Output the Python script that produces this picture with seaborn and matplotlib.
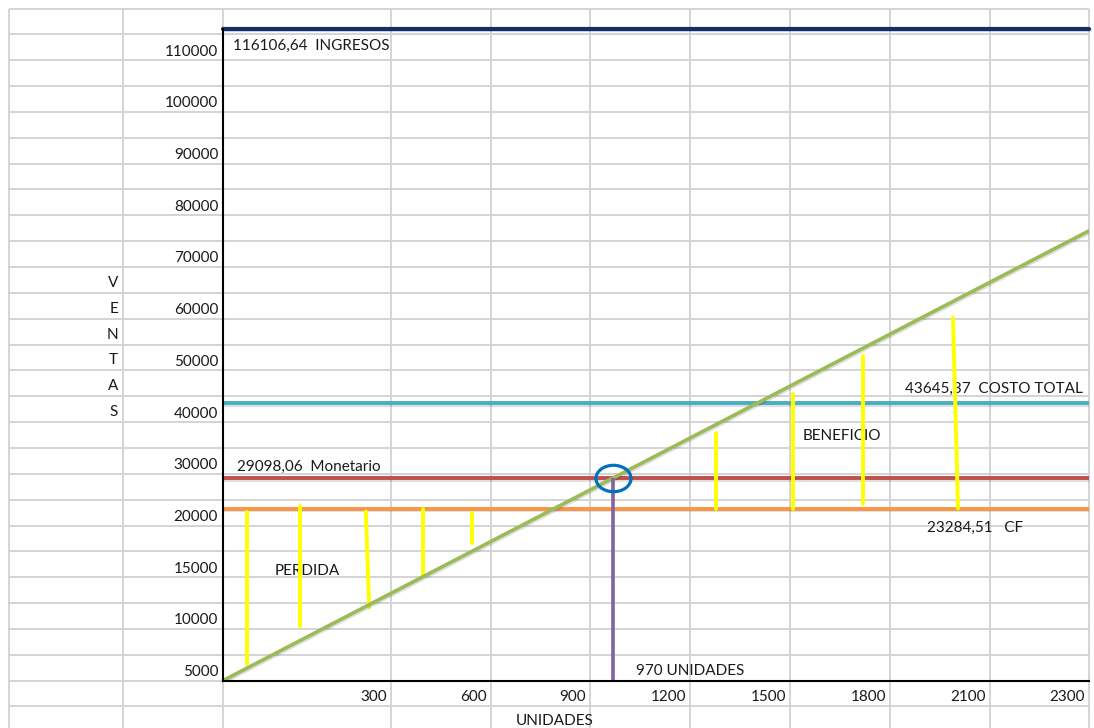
import numpy as np
import pandas as pd
import seaborn as sns
import matplotlib.pyplot as plt
import matplotlib.patheffects as pe
from matplotlib.markers import MarkerStyle
from matplotlib.transforms import Affine2D, ScaledTranslation

# ---------------------------------------------------------------
# Datos del punto de equilibrio
# ---------------------------------------------------------------
X_TICKS = [0, 300, 600, 900, 1200, 1500, 1800, 2100, 2300]
Y_TICKS = [5000, 10000, 15000, 20000, 30000, 40000, 50000, 60000,
           70000, 80000, 90000, 100000, 110000]

INGRESOS = 116106.64
COSTO_TOTAL = 43645.37
MONETARIO = 29098.06
COSTO_FIJO = 23284.51
UNIDADES_EQ = 970

# recta de ventas
VENTAS_X = [0, 2300]
VENTAS_Y = [5000, 77000]

# trazos amarillos (perdida y beneficio)
AMARILLO_X0 = [43, 138, 255, 396, 543, 1278, 1509, 1719, 2004]
AMARILLO_X1 = [43, 138, 261, 396, 543, 1278, 1509, 1719, 1989]
AMARILLO_Y0 = [22700, 23860, 22700, 23100, 22500, 23100, 23100, 24070, 23280]
AMARILLO_Y1 = [6600, 10300, 12100, 15100, 18300, 37900, 45400, 52800, 60200]

# ---------------------------------------------------------------
# Rejilla de la hoja de calculo (pixeles de la figura)
# ---------------------------------------------------------------
W, H = 1094, 728
COL_PX = [9, 123, 223, 391, 491, 590, 690, 790, 890, 990, 1089]
ROW_PX = [8.5 + 25.85 * k for k in range(28)]
X_TICK_PX = COL_PX[2:]
Y_TICK_PX = [ROW_PX[26 - 2 * i] for i in range(len(Y_TICKS))]


def tramos(src, dst):
    src = np.asarray(src, float)
    dst = np.asarray(dst, float)

    def f(v):
        v = np.asarray(v, float)
        out = np.interp(v, src, dst)
        lo = dst[0] + (v - src[0]) * (dst[1] - dst[0]) / (src[1] - src[0])
        hi = dst[-1] + (v - src[-1]) * (dst[-1] - dst[-2]) / (src[-1] - src[-2])
        out = np.where(v < src[0], lo, out)
        out = np.where(v > src[-1], hi, out)
        return out
    return f


fx = tramos(X_TICKS, X_TICK_PX)
fx_inv = tramos(X_TICK_PX, X_TICKS)
neg_y = -np.asarray(Y_TICK_PX)
fy = tramos(Y_TICKS, neg_y)
fy_inv = tramos(neg_y, Y_TICKS)

sns.set_theme(style="white")
plt.rcParams['font.family'] = ['Lato', 'DejaVu Sans']
FS = 11
TXT = '#1a1a1a'

fig = plt.figure(figsize=(W / 100, H / 100), dpi=100)
fig.patch.set_facecolor('white')

# fondo con las celdas
bg = fig.add_axes([0, 0, 1, 1])
bg.set_xlim(0, W)
bg.set_ylim(H, 0)
bg.axis('off')
bg.vlines(COL_PX, ROW_PX[0], H, color='#d4d4d4', lw=1.4)
bg.hlines(ROW_PX, COL_PX[0], COL_PX[-1], color='#d4d4d4', lw=1.4)
for i, ch in enumerate("VENTAS"):
    yc = (ROW_PX[10 + i] + ROW_PX[11 + i]) / 2 + 3
    bg.text(118, yc, ch, ha='right', va='center', fontsize=FS, color=TXT)

# grafico principal
top_px = -float(fy(INGRESOS))
bottom_px = Y_TICK_PX[0]
ax = fig.add_axes([X_TICK_PX[0] / W, 1 - bottom_px / H,
                   (X_TICK_PX[-1] - X_TICK_PX[0]) / W, (bottom_px - top_px) / H])
ax.set_facecolor('none')
ax.set_xscale('function', functions=(fx, fx_inv))
ax.set_yscale('function', functions=(fy, fy_inv))
ax.set_xlim(X_TICKS[0], X_TICKS[-1])
ax.set_ylim(Y_TICKS[0], INGRESOS)

sombra = [pe.SimpleLineShadow(offset=(0.4, -1.3), shadow_color='k', alpha=0.14), pe.Normal()]

ax.axhline(INGRESOS, color='#142d62', lw=3.0, clip_on=False, path_effects=sombra, zorder=3)
ax.axhline(COSTO_TOTAL, color='#4bacc6', lw=2.8, path_effects=sombra, zorder=3)
ax.axhline(MONETARIO, color='#c0504d', lw=2.8, path_effects=sombra, zorder=3)
ax.axhline(COSTO_FIJO, color='#f79646', lw=2.8, path_effects=sombra, zorder=3)

seg = pd.DataFrame({
    'seg': list(range(len(AMARILLO_X0))) * 2,
    'x': AMARILLO_X0 + AMARILLO_X1,
    'y': AMARILLO_Y0 + AMARILLO_Y1,
})
sns.lineplot(data=seg, x='x', y='y', units='seg', estimator=None, sort=False,
             color='#ffff00', lw=2.8, ax=ax, zorder=4)

sns.lineplot(x=VENTAS_X, y=VENTAS_Y, color='#9bbb59', lw=2.6, ax=ax, zorder=5,
             path_effects=sombra)

ax.vlines(UNIDADES_EQ, Y_TICKS[0], MONETARIO, color='#8064a2', lw=2.6, zorder=6)
ax.plot([UNIDADES_EQ], [MONETARIO], linestyle='none',
        marker=MarkerStyle('o', fillstyle='none', transform=Affine2D().scale(1.33, 1.0)),
        markersize=19, mew=2.3, color='#0070c0', zorder=7)

# textos
ax.text(18, 112700, '116106,64  INGRESOS', va='center', fontsize=FS, color=TXT)
ax.text(1845, 46400, '43645,37  COSTO TOTAL', va='center', fontsize=FS, color=TXT, zorder=2)
ax.text(25, 31400, '29098,06  Monetario', va='center', fontsize=FS, color=TXT)
ax.text(1911, 19800, '23284,51   CF', va='center', fontsize=FS, color=TXT)
ax.text(93, 15600, 'PERDIDA', va='center', fontsize=FS, color=TXT)
ax.text(1539, 37300, 'BENEFICIO', va='center', fontsize=FS, color=TXT)
ax.text(1038, 5930, '970 UNIDADES', va='center', fontsize=FS, color=TXT)

# ejes
ax.set_xticks(X_TICKS[1:])
ax.set_xticklabels([str(v) for v in X_TICKS[1:]])
ax.set_yticks(Y_TICKS)
ax.set_yticklabels([str(v) for v in Y_TICKS])
ax.tick_params(axis='both', length=0, labelsize=FS, labelcolor=TXT)
ax.tick_params(axis='x', pad=6.5)
ax.tick_params(axis='y', pad=3.5)
for s in ['top', 'right']:
    ax.spines[s].set_visible(False)
for s in ['left', 'bottom']:
    ax.spines[s].set_color('black')
    ax.spines[s].set_linewidth(1.5)
    ax.spines[s].set_zorder(8)

ax.set_xlabel('UNIDADES', fontsize=FS, color=TXT)
ax.set_ylabel('')
ax.xaxis.set_label_coords((555 - X_TICK_PX[0]) / (X_TICK_PX[-1] - X_TICK_PX[0]),
                          (bottom_px - 721) / (bottom_px - top_px))
ax.xaxis.label.set_va('center')

dx = ScaledTranslation(-4 / 100, 0, fig.dpi_scale_trans)
for lbl in ax.get_xticklabels():
    lbl.set_ha('right')
    lbl.set_transform(lbl.get_transform() + dx)
dy = ScaledTranslation(0, 10 / 100, fig.dpi_scale_trans)
for lbl in ax.get_yticklabels():
    lbl.set_transform(lbl.get_transform() + dy)

fig.savefig('out.png', dpi=100)
